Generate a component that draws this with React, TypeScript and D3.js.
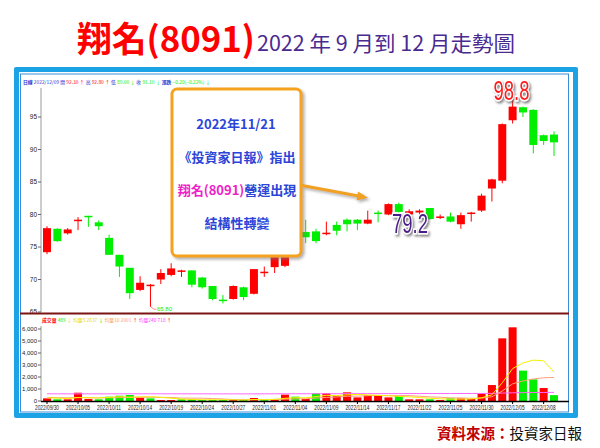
import React, { useLayoutEffect, useRef } from "react";
import * as d3 from "d3";

const dates = [
  "2022/09/30", "2022/10/03", "2022/10/04", "2022/10/05", "2022/10/06", "2022/10/07",
  "2022/10/11", "2022/10/12", "2022/10/13", "2022/10/14", "2022/10/17", "2022/10/18",
  "2022/10/19", "2022/10/20", "2022/10/21", "2022/10/24", "2022/10/25", "2022/10/26",
  "2022/10/27", "2022/10/28", "2022/10/31", "2022/11/01", "2022/11/02", "2022/11/03",
  "2022/11/04", "2022/11/07", "2022/11/08", "2022/11/09", "2022/11/10", "2022/11/11",
  "2022/11/14", "2022/11/15", "2022/11/16", "2022/11/17", "2022/11/18", "2022/11/21",
  "2022/11/22", "2022/11/23", "2022/11/24", "2022/11/25", "2022/11/28", "2022/11/29",
  "2022/11/30", "2022/12/01", "2022/12/02", "2022/12/05", "2022/12/06", "2022/12/07",
  "2022/12/08", "2022/12/09",
];

const opens = [
  74.2, 77.8, 77.1, 79.0, 79.8, 78.8, 76.4, 73.8, 71.8, 68.4,
  69.1, 70.0, 70.7, 71.3, 71.4, 70.3, 69.0, 66.9, 67.0, 68.8,
  67.8, 71.1, 71.9, 72.1, 77.8, 77.3, 77.4, 77.1, 78.4, 79.2,
  79.2, 78.6, 80.3, 80.0, 81.6, 80.0, 80.3, 81.0, 79.6, 79.7,
  78.5, 80.2, 80.6, 84.0, 85.2, 94.5, 96.5, 96.1, 92.2, 92.3,
];
const highs = [
  78.2, 77.9, 77.9, 79.6, 79.8, 79.1, 76.9, 73.8, 71.8, 70.5,
  69.3, 71.6, 72.5, 71.5, 71.4, 70.4, 69.0, 67.6, 69.1, 68.9,
  71.6, 72.0, 74.2, 77.8, 78.0, 79.2, 77.8, 78.9, 78.9, 79.4,
  79.3, 80.6, 80.6, 81.7, 81.8, 80.8, 80.8, 81.0, 80.0, 80.3,
  80.3, 80.4, 83.2, 85.5, 94.0, 98.8, 96.6, 96.2, 92.3, 92.8,
];
const lows = [
  73.9, 75.8, 76.9, 77.6, 78.1, 77.6, 73.8, 70.4, 67.0, 68.2,
  65.8, 69.3, 70.5, 70.4, 68.8, 68.6, 66.8, 66.3, 66.9, 66.8,
  67.7, 70.4, 71.0, 71.9, 75.8, 75.6, 75.6, 76.8, 76.8, 77.4,
  77.6, 78.5, 78.8, 79.9, 80.0, 79.2, 79.8, 79.2, 79.3, 78.8,
  77.8, 78.9, 80.4, 82.0, 84.8, 94.0, 95.0, 89.4, 90.7, 89.0,
];
const closes = [
  77.9, 75.9, 77.7, 79.2, 79.6, 78.2, 73.8, 72.0, 67.9, 69.5,
  69.2, 71.0, 71.7, 71.4, 69.2, 68.8, 67.0, 66.8, 69.0, 67.3,
  71.6, 71.2, 74.0, 77.5, 76.2, 76.5, 75.9, 77.2, 77.5, 78.5,
  78.6, 79.2, 80.2, 81.6, 80.4, 80.5, 80.6, 79.3, 79.7, 78.9,
  79.9, 80.3, 82.9, 85.4, 93.9, 96.6, 95.7, 90.7, 91.3, 91.1,
];
const volumes = [
  220, 140, 140, 690, 170, 140, 360, 440, 500, 280,
  220, 80, 80, 140, 140, 80, 80, 80, 80, 80,
  250, 80, 170, 530, 360, 170, 640, 640, 420, 720,
  300, 470, 420, 300, 420, 140, 140, 140, 80, 220,
  220, 170, 640, 1330, 5220, 6140, 2530, 1800, 1080, 489,
];
const preVolumes = [310, 260, 420, 380, 290, 250, 330, 270, 240];
const ma240 = [
  598, 597, 596, 598, 597, 596, 597, 598, 600, 601,
  600, 599, 598, 598, 597, 597, 596, 596, 595, 595,
  596, 597, 598, 600, 602, 603, 605, 607, 608, 611,
  612, 614, 615, 617, 618, 618, 619, 620, 621, 622,
  624, 627, 630, 636, 658, 684, 696, 705, 712, 718,
];
const priceTicks = [65, 70, 75, 80, 85, 90, 95];
const volumeTicks = [0, 1000, 2000, 3000, 4000, 5000, 6000];
const dateLabelStep = 3;
const lowMark = "65.80";
const label1 = "79.2";
const label2 = "98.8";

const RED = "#ff0000";
const GREEN = "#00ee00";
const BLUE_TXT = "#2b45d8";
const HDR_BLUE = "#1b2fd0";
const FONT = "'Liberation Sans', Arial, sans-serif";
const CJK = "'Noto Sans CJK TC', 'Noto Sans CJK SC', sans-serif";

type Seg = { t: string; c: string; b?: boolean };

// Lays tiny segments out one after another, measured so that none overlap.
function TinyRow({ segs, x, y, w }: { segs: Seg[]; x: number; y: number; w: number }) {
  const ref = useRef<SVGGElement>(null);
  useLayoutEffect(() => {
    const g = d3.select(ref.current);
    g.selectAll("*").remove();
    const gap = 1.2;
    const texts = g
      .selectAll("text")
      .data(segs)
      .join("text")
      .attr("y", y)
      .attr("font-family", CJK)
      .attr("font-size", 6)
      .attr("fill", (d) => d.c)
      .attr("font-weight", (d) => (d.b ? "bold" : "normal"))
      .text((d) => d.t);
    const measure = () =>
      texts.nodes().map((n) => (n as SVGTextElement).getComputedTextLength());
    let widths = measure();
    const total = d3.sum(widths) + gap * (segs.length - 1);
    const k = Math.min(1.3, (w - gap * (segs.length - 1)) / (total - gap * (segs.length - 1)));
    texts.attr("font-size", 6 * k);
    widths = measure();
    let cx = x;
    texts.each(function (_, i) {
      d3.select(this).attr("x", cx);
      cx += widths[i] + gap;
    });
  }, [segs, x, y, w]);
  return <g ref={ref} />;
}

export default function App() {
  const x = d3.scalePoint<string>().domain(dates).range([47, 554]);
  const yP = d3.scaleLinear().domain([65, 95]).range([312, 117]);
  const yV = d3.scaleLinear().domain([0, 6000]).range([401, 329]);
  const bw = 8;

  const allVol = [...preVolumes, ...volumes];
  const maN = (n: number) =>
    volumes.map((_, i) => {
      const end = i + preVolumes.length + 1;
      return d3.mean(allVol.slice(Math.max(0, end - n), end)) as number;
    });
  const ma5 = maN(5);
  const ma10 = maN(10);
  const line = d3
    .line<number>()
    .x((_, i) => x(dates[i]) as number)
    .y((d) => yV(d));

  const fmt = d3.format(",");
  const lowIdx = lows.indexOf(d3.min(lows) as number);
  const lx = x(dates[lowIdx]) as number;
  const ly = yP(lows[lowIdx]);

  const last = dates.length - 1;
  const f2 = d3.format(".2f");
  const chg = closes[last] - closes[last - 1];
  const headerSegs: Seg[] = [
    { t: "日線", c: HDR_BLUE, b: true },
    { t: dates[last], c: HDR_BLUE },
    { t: "開", c: HDR_BLUE },
    { t: f2(opens[last]), c: RED },
    { t: "↑", c: RED },
    { t: "高", c: HDR_BLUE },
    { t: f2(highs[last]), c: RED },
    { t: "↑", c: RED },
    { t: "低", c: HDR_BLUE },
    { t: f2(lows[last]), c: GREEN },
    { t: "↓", c: GREEN },
    { t: "收", c: HDR_BLUE },
    { t: f2(closes[last]), c: GREEN },
    { t: "↓", c: GREEN },
    { t: "漲跌", c: HDR_BLUE, b: true },
    { t: `${f2(chg)}(${f2((chg / closes[last - 1]) * 100)}%)`, c: GREEN },
    { t: "↓", c: GREEN },
  ];
  const volSegs: Seg[] = [
    { t: "成交量", c: RED, b: true },
    { t: String(volumes[last]), c: GREEN },
    { t: "↓", c: "#e6d800" },
    { t: "均量5", c: "#e6d800" },
    { t: "2637", c: "#e6d800" },
    { t: "↓", c: GREEN },
    { t: "均量10", c: "#ff9a60" },
    { t: "2001", c: "#ff9a60" },
    { t: "↑", c: RED },
    { t: "均量240", c: "#ff40ff" },
    { t: String(ma240[last]), c: "#ff40ff" },
    { t: "↑", c: RED },
  ];

  return (
    <svg
      width={600}
      height={448}
      style={{ position: "fixed", left: 0, top: 0, background: "#fff" }}
      fontFamily={FONT}
    >
      <defs>
        <filter id="sh" x="-20%" y="-20%" width="150%" height="150%">
          <feDropShadow dx="2" dy="2" stdDeviation="1.5" floodColor="#777" floodOpacity="0.6" />
        </filter>
        <filter id="sh2" x="-20%" y="-20%" width="150%" height="150%">
          <feDropShadow dx="1.5" dy="2" stdDeviation="1.2" floodColor="#555" floodOpacity="0.7" />
        </filter>
      </defs>
      <rect width={600} height={448} fill="#fff" />

      {/* Title */}
      <text x={77} y={52} fontFamily={CJK} fontSize={35} fontWeight="bold" fill="#ff0000" textLength={178} lengthAdjust="spacingAndGlyphs">
        翔名(8091)
      </text>
      <text x={257} y={51} fontFamily={CJK} fontSize={21} fill="#4b2a8f" textLength={258} lengthAdjust="spacingAndGlyphs">
        2022 年 9 月到 12 月走勢圖
      </text>

      {/* Frame */}
      <rect x={14} y={67} width={564} height={351} fill="#1ba3e6" rx={2} />
      <rect x={19} y={72} width={554} height={341} fill="#fff" />
      <rect x={20.5} y={74} width={548} height={338} fill="none" stroke="#3a8fd8" strokeWidth={1} />

      {/* Header row */}
      <TinyRow segs={headerSegs} x={23} y={84} w={188} />

      {/* Price axis */}
      <line x1={41} x2={41} y1={88} y2={312} stroke="#999" strokeWidth={1} />
      {priceTicks.map((t) => (
        <g key={t}>
          <line x1={38} x2={41} y1={yP(t)} y2={yP(t)} stroke="#666" />
          <text x={37} y={yP(t) + 2.2} fontSize={6.5} textAnchor="end" fill="#222">
            {t}
          </text>
        </g>
      ))}

      {/* Candles */}
      {dates.map((d, i) => {
        const cx = x(d) as number;
        const up = closes[i] >= opens[i];
        const col = up ? RED : GREEN;
        const top = yP(Math.max(opens[i], closes[i]));
        const bot = yP(Math.min(opens[i], closes[i]));
        return (
          <g key={d}>
            <line x1={cx} x2={cx} y1={yP(highs[i])} y2={yP(lows[i])} stroke={col} strokeWidth={1} />
            <rect x={cx - bw / 2} y={top} width={bw} height={Math.max(1.5, bot - top)} fill={col} />
          </g>
        );
      })}

      {/* Low marker */}
      <path
        d={`M${lx},${ly} L${lx + 4},${ly + 2.5} L${lx + 6},${ly + 2.5}`}
        fill="none"
        stroke="#ff7070"
        strokeWidth={0.8}
      />
      <text x={lx + 6.5} y={ly + 4.5} fontSize={6} fill={GREEN}>
        {lowMark}
      </text>

      {/* Divider */}
      <line x1={20} x2={569} y1={313.5} y2={313.5} stroke="#7a1414" strokeWidth={2} />

      {/* Volume header */}
      <TinyRow segs={volSegs} x={42} y={322} w={130} />

      {/* Volume axis */}
      <line x1={41} x2={41} y1={326} y2={401} stroke="#999" />
      {volumeTicks.map((t) => (
        <g key={t}>
          <line x1={38} x2={41} y1={yV(t)} y2={yV(t)} stroke="#666" />
          <text x={37} y={yV(t) + 2.2} fontSize={6} textAnchor="end" fill="#222">
            {fmt(t)}
          </text>
        </g>
      ))}

      {/* Volume bars */}
      {dates.map((d, i) => {
        const cx = x(d) as number;
        const up = i === 0 ? closes[i] >= opens[i] : closes[i] >= closes[i - 1];
        return (
          <rect
            key={d}
            x={cx - bw / 2}
            y={yV(volumes[i])}
            width={bw}
            height={yV(0) - yV(volumes[i])}
            fill={up ? RED : GREEN}
          />
        );
      })}

      {/* MA lines */}
      <path d={line(ma240) as string} fill="none" stroke="#ff66ff" strokeWidth={1} />
      <path d={line(ma10) as string} fill="none" stroke="#ffa07a" strokeWidth={1} />
      <path d={line(ma5) as string} fill="none" stroke="#f5f000" strokeWidth={1} />

      {/* Date axis */}
      <line x1={41} x2={569} y1={401.5} y2={401.5} stroke="#000" strokeWidth={1.5} />
      {dates.map((d, i) =>
        i % dateLabelStep === 0 ? (
          <g key={d}>
            <line x1={x(d)} x2={x(d)} y1={401} y2={404} stroke="#000" />
            <text
              x={x(d)}
              y={410}
              fontSize={6.5}
              textAnchor="middle"
              fill="#222"
              textLength={24}
              lengthAdjust="spacingAndGlyphs"
            >
              {d}
            </text>
          </g>
        ) : null
      )}

      {/* Annotation box */}
      <g filter="url(#sh)">
        <rect x={172} y={89} width={129} height={167} rx={5} fill="#fff" stroke="#f5a31a" strokeWidth={3} />
      </g>
      <g fontFamily={CJK} fontSize={13} fontWeight="bold" textAnchor="middle" fill={BLUE_TXT}>
        <text x={236} y={129}>2022年11/21</text>
        <text x={237} y={162}>《投資家日報》指出</text>
        <text x={237} y={195}>
          <tspan fill="#f01ec8">翔名(8091)</tspan>
          <tspan>營運出現</tspan>
        </text>
        <text x={237} y={228}>結構性轉變</text>
      </g>

      {/* Arrow */}
      <g filter="url(#sh)">
        <line x1={302} y1={185.5} x2={360} y2={196.3} stroke="#f0a020" strokeWidth={3} />
        <polygon points="368,197.8 358,191.5 356.5,200.5" fill="#f0a020" />
      </g>

      {/* Price labels */}
      <text
        x={410}
        y={233}
        fontSize={27}
        textAnchor="middle"
        fill="#4a1f86"
        stroke="#fff"
        strokeWidth={3}
        paintOrder="stroke"
        filter="url(#sh2)"
        textLength={36}
        lengthAdjust="spacingAndGlyphs"
      >
        {label1}
      </text>
      <text
        x={511.5}
        y={100}
        fontSize={27}
        textAnchor="middle"
        fill="#ff1a1a"
        stroke="#fff"
        strokeWidth={3}
        paintOrder="stroke"
        filter="url(#sh2)"
        textLength={36}
        lengthAdjust="spacingAndGlyphs"
      >
        {label2}
      </text>

      {/* Source */}
      <text x={437} y={439} fontFamily={CJK} fontSize={14.5}>
        <tspan fill="#c00000" fontWeight="bold">資料來源：</tspan>
        <tspan fill="#111">投資家日報</tspan>
      </text>
    </svg>
  );
}
